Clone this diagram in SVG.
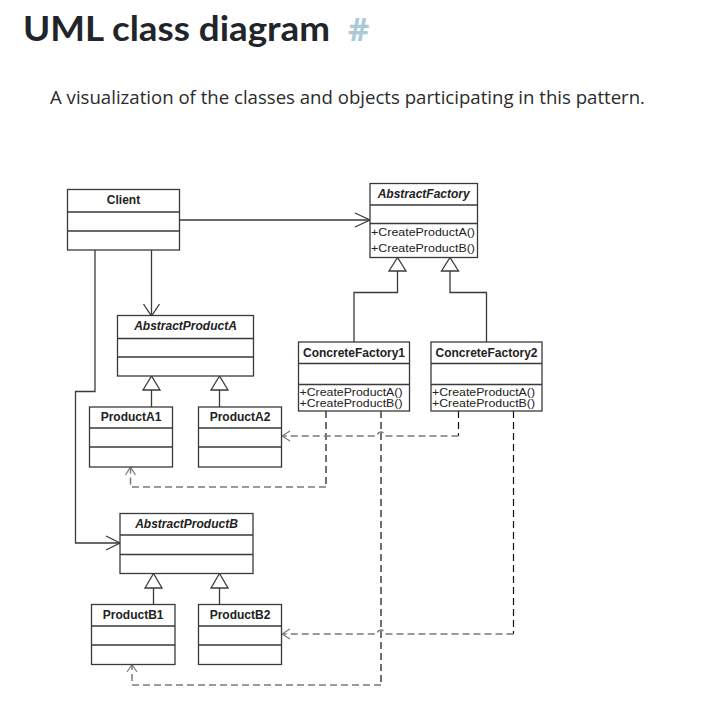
<svg xmlns="http://www.w3.org/2000/svg" width="720" height="721" viewBox="0 0 720 721">
<defs>
<style>
.box{fill:#fff;stroke:#3a3a3a;stroke-width:1.3}
.div{stroke:#3a3a3a;stroke-width:1.3}
.nm{font-family:"Liberation Sans",Arial,sans-serif;font-size:12px;font-weight:bold;fill:#222;text-anchor:middle}
.ab{font-style:italic}
.mt{font-family:"Liberation Sans",Arial,sans-serif;font-size:11.5px;fill:#222}
.ln{fill:none;stroke:#3a3a3a;stroke-width:1.3}
.dv{fill:none;stroke:#111;stroke-width:1.2;stroke-dasharray:7 4}
.dh{fill:none;stroke:#7a7a7a;stroke-width:1.5;stroke-dasharray:7 4}
.ah{fill:none;stroke:#7a7a7a;stroke-width:1.2}
.tri{fill:#fff;stroke:#3a3a3a;stroke-width:1.3}
</style>
</defs>
<rect width="720" height="721" fill="#fff"/>
<g id="header">
<text x="23" y="41" font-family="Lato,'Open Sans',sans-serif" font-size="35" font-weight="bold" fill="#212529" textLength="307" lengthAdjust="spacingAndGlyphs">UML class diagram</text>
<text x="348" y="41" font-family="'Open Sans','Noto Sans',sans-serif" font-size="33" font-weight="bold" fill="#a9cad6">#</text>
<text x="50" y="104" font-family="'Open Sans','Noto Sans',sans-serif" font-size="18" fill="#2b2b2b" textLength="595" lengthAdjust="spacingAndGlyphs">A visualization of the classes and objects participating in this pattern.</text>
</g>
<g id="connectors">
<path class="ln" d="M179,220 H370"/>
<path class="ln" d="M355,213 L370,220 L355,227"/>
<path class="ln" d="M151.5,250 V316"/>
<path class="ln" d="M143.5,304 L151.5,316 L159.5,304"/>
<path class="ln" d="M95,250 V391.5 H75.5 V543 H120"/>
<path class="ln" d="M106,536 L120,543 L106,550"/>
<path class="ln" d="M397.5,271 V292.5 H354 V342"/>
<path class="ln" d="M450,271 V292.5 H486.5 V342"/>
<path class="tri" d="M397.5,257.5 L389,271 L406,271 Z"/>
<path class="tri" d="M450,257.5 L441.5,271 L458.5,271 Z"/>
<path class="ln" d="M151.5,390 V407"/>
<path class="ln" d="M219.5,390 V407"/>
<path class="tri" d="M151.5,376 L143,390 L160,390 Z"/>
<path class="tri" d="M219.5,376 L211,390 L228,390 Z"/>
<path class="ln" d="M153.5,588 V604.5"/>
<path class="ln" d="M219.5,588 V604.5"/>
<path class="tri" d="M153.5,573.5 L145,588 L162,588 Z"/>
<path class="tri" d="M219.5,573.5 L211,588 L228,588 Z"/>
<path class="dv" d="M326,411 V487"/>
<path class="dv" d="M381,411 V685"/>
<path class="dv" d="M458.5,411 V436"/>
<path class="dv" d="M513.5,411 V634"/>
<path class="dh" d="M458.5,436 H385 A4,4 0 0 0 377,436 H283"/>
<path class="ah" d="M290,431 L282,436 L290,441"/>
<path class="dh" d="M326,487 H130.5 V468"/>
<path class="ah" d="M125.5,475 L130.5,467 L135.5,475"/>
<path class="dh" d="M513.5,634 H385 A4,4 0 0 0 377,634 H283"/>
<path class="ah" d="M290,629 L282,634 L290,639"/>
<path class="dh" d="M381,685 H132 V665"/>
<path class="ah" d="M127,672 L132,664.5 L137,672"/>
</g>
<g id="Client">
<rect class="box" x="67.5" y="189.5" width="112" height="60.5"/>
<path class="div" d="M67.5,212 H179.5 M67.5,231 H179.5"/>
<text class="nm" x="123.5" y="204">Client</text>
</g>
<g id="AbstractFactory">
<rect class="box" x="370" y="183.5" width="107.5" height="74"/>
<path class="div" d="M370,205 H477.5 M370,223.5 H477.5"/>
<text class="nm ab" x="423.7" y="198">AbstractFactory</text>
<text class="mt" x="371" y="236" textLength="104" lengthAdjust="spacingAndGlyphs">+CreateProductA()</text>
<text class="mt" x="371" y="252" textLength="104" lengthAdjust="spacingAndGlyphs">+CreateProductB()</text>
</g>
<g id="ConcreteFactory1">
<rect class="box" x="298.5" y="342" width="111" height="69"/>
<path class="div" d="M298.5,363.5 H409.5 M298.5,384.5 H409.5"/>
<text class="nm" x="354" y="357">ConcreteFactory1</text>
<text class="mt" x="299.5" y="396" textLength="103" lengthAdjust="spacingAndGlyphs">+CreateProductA()</text>
<text class="mt" x="299.5" y="407" textLength="103" lengthAdjust="spacingAndGlyphs">+CreateProductB()</text>
</g>
<g id="ConcreteFactory2">
<rect class="box" x="431" y="342" width="111" height="69"/>
<path class="div" d="M431,363.5 H542 M431,384.5 H542"/>
<text class="nm" x="486.5" y="357">ConcreteFactory2</text>
<text class="mt" x="432" y="396" textLength="103" lengthAdjust="spacingAndGlyphs">+CreateProductA()</text>
<text class="mt" x="432" y="407" textLength="103" lengthAdjust="spacingAndGlyphs">+CreateProductB()</text>
</g>
<g id="AbstractProductA">
<rect class="box" x="117.5" y="315.5" width="136" height="60.5"/>
<path class="div" d="M117.5,338.5 H253.5 M117.5,357 H253.5"/>
<text class="nm ab" x="185.5" y="330">AbstractProductA</text>
</g>
<g id="ProductA1">
<rect class="box" x="89.5" y="407" width="83" height="60"/>
<path class="div" d="M89.5,428 H172.5 M89.5,447 H172.5"/>
<text class="nm" x="131" y="421">ProductA1</text>
</g>
<g id="ProductA2">
<rect class="box" x="198.5" y="407" width="83" height="60"/>
<path class="div" d="M198.5,428 H281.5 M198.5,447 H281.5"/>
<text class="nm" x="240" y="421">ProductA2</text>
</g>
<g id="AbstractProductB">
<rect class="box" x="120" y="513.5" width="133" height="60"/>
<path class="div" d="M120,535 H253 M120,554.5 H253"/>
<text class="nm ab" x="186.5" y="528">AbstractProductB</text>
</g>
<g id="ProductB1">
<rect class="box" x="91.5" y="604.5" width="83.5" height="60"/>
<path class="div" d="M91.5,626 H175 M91.5,645 H175"/>
<text class="nm" x="133.2" y="619">ProductB1</text>
</g>
<g id="ProductB2">
<rect class="box" x="198.5" y="604.5" width="83" height="60"/>
<path class="div" d="M198.5,626 H281.5 M198.5,645 H281.5"/>
<text class="nm" x="240" y="619">ProductB2</text>
</g>
</svg>
